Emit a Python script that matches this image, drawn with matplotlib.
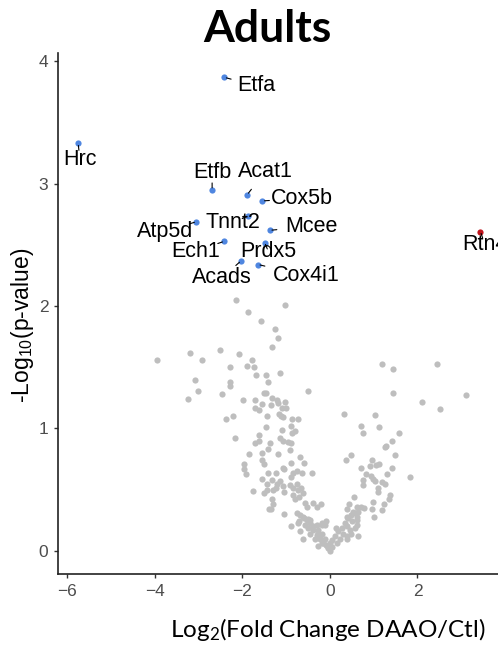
import numpy as np
import matplotlib
matplotlib.use("Agg")
import matplotlib.pyplot as plt

plt.rcParams['mathtext.fontset'] = 'custom'

# grey (non significant) proteins: log2 fold change, -log10 p
grey_x = [-2.14, -1.86, -1.58, -3.94, -3.20, -2.92, -2.52, -2.08, -1.77, -2.28, -1.89, -1.74, -1.68, -1.47,
          -3.07, -2.28, -2.28, -1.41, -3.01, -2.46, -1.51, -1.45, -3.25, -1.98, -1.70, -1.54, -1.71, -1.61,
          -2.37, -2.21, -1.43, -1.47, -2.17, -1.61, -1.71, -1.61, -1.42, -1.85, -1.56, -1.55, -1.50, -1.96,
          -1.96, -1.92, -1.41, -1.56, -1.43, -1.75, -1.51, -1.38,
          -1.03, -1.25, -1.19, -1.32, -1.15, -0.50, 1.18, 1.44, 2.44, 1.44, 2.10, 2.51, 3.10, 0.33, 1.04,
          0.71, 0.75, 1.13, 1.58, 1.42, 1.29, 1.27, 1.48, 0.48, 0.36, 0.96, 1.13, 1.05, 0.91, 0.71, 1.42,
          1.83, 0.82, 0.93, 0.99, 1.03, 0.76, 0.75, 1.19, 1.25, 1.31, 1.09, 1.10, 1.38, 1.35, 1.23, 1.20,
          0.99, 0.97, 1.00, 0.55, 0.43, 0.38,
          -1.32, -1.20, -1.18, -1.03, -1.10, -1.00, -1.35, -1.16, -1.12, -1.07, -0.86, -0.73, -1.10, -0.88,
          -0.80, -0.86, -1.13, -1.06, -0.95, -0.88, -1.37, -0.91, -1.18, -0.68, -0.88, -0.59, -1.07, -1.04,
          -1.23, -0.84, -0.76, -0.63, -0.40,
          -1.33, -1.20, -1.43, -1.29, -1.22, -1.13, -1.07, -1.04, -0.88, -0.91, -0.84, -0.76, -0.72, -0.65,
          -0.84, -0.80, -0.71, -0.61, -1.33, -1.29, -1.35, -1.04, -0.57, -0.53, -0.38, -0.21, -0.76, -0.68,
          -0.60, -0.50, -0.45, -0.72, -0.57, -0.50, -0.88, -0.68, -0.61, -0.38, -0.30, -0.23, -0.15, -0.27,
          -0.19,
          -0.30, 0.61, 0.70, 0.78, 0.65, 0.57, 0.49, 0.61, 0.42, 0.51, 0.34, 0.38, 0.27, 0.19, 0.30, 0.46,
          0.57, 0.63, 0.65, 0.11, 0.04, 0.00, -0.04, 0.23, 0.38, 0.49, -0.11, -0.19, -0.08, -0.30, -0.27,
          -0.19, -0.11, -0.15, -0.08,
          0.15, 0.38, 0.53, 0.61, 0.38, 0.17, -0.61, -0.53, -0.46, -0.38, -0.23, -0.70, -0.46, -0.34,
          -0.19, -0.27, 0.00, 0.05, -0.05]
grey_y = [2.05, 1.95, 1.88, 1.56, 1.62, 1.56, 1.64, 1.61, 1.56, 1.50, 1.51, 1.50, 1.44, 1.44,
          1.40, 1.38, 1.35, 1.38, 1.31, 1.28, 1.29, 1.29, 1.24, 1.23, 1.23, 1.20, 1.17, 1.15,
          1.08, 1.10, 1.10, 1.01, 0.92, 0.95, 0.88, 0.90, 0.83, 0.79, 0.80, 0.74, 0.71, 0.71,
          0.67, 0.63, 0.64, 0.59, 0.55, 0.49, 0.47, 0.34,
          2.01, 1.81, 1.74, 1.67, 1.45, 1.31, 1.53, 1.49, 1.53, 1.29, 1.22, 1.16, 1.27, 1.12, 1.11,
          1.02, 0.96, 1.01, 0.96, 0.90, 0.86, 0.85, 0.78, 0.78, 0.74, 0.74, 0.71, 0.70, 0.69, 0.68, 0.68,
          0.60, 0.63, 0.61, 0.59, 0.57, 0.58, 0.54, 0.56, 0.55, 0.63, 0.51, 0.48, 0.46, 0.42, 0.38, 0.33,
          0.40, 0.34, 0.28, 0.44, 0.38, 0.34,
          1.25, 1.23, 1.21, 1.22, 1.17, 1.17, 1.19, 1.12, 1.10, 1.09, 1.08, 1.08, 0.99, 1.02,
          0.98, 0.96, 0.92, 0.90, 0.89, 0.88, 0.88, 0.82, 0.79, 0.77, 0.72, 0.72, 0.68, 0.67,
          0.64, 0.64, 0.65, 0.64, 0.64,
          0.58, 0.55, 0.50, 0.50, 0.51, 0.57, 0.53, 0.48, 0.60, 0.54, 0.51, 0.55, 0.50, 0.51,
          0.46, 0.42, 0.44, 0.47, 0.42, 0.38, 0.34, 0.30, 0.39, 0.36, 0.39, 0.38, 0.31, 0.29,
          0.27, 0.26, 0.25, 0.23, 0.21, 0.19, 0.20, 0.16, 0.10, 0.17, 0.13, 0.10, 0.08, 0.14,
          0.23,
          0.36, 0.36, 0.36, 0.35, 0.32, 0.31, 0.29, 0.28, 0.27, 0.24, 0.23, 0.20, 0.19, 0.16, 0.14, 0.17,
          0.19, 0.21, 0.12, 0.12, 0.09, 0.06, 0.02, 0.10, 0.12, 0.14, 0.21, 0.21, 0.24, 0.21, 0.17,
          0.14, 0.10, 0.06, 0.05,
          0.19, 0.28, 0.32, 0.25, 0.10, 0.06, 0.28, 0.25, 0.23, 0.20, 0.13, 0.24, 0.14, 0.10,
          0.06, 0.04, 0.00, 0.03, 0.03]

# significant proteins
down_genes = ['Etfa', 'Hrc', 'Etfb', 'Acat1', 'Cox5b', 'Tnnt2', 'Atp5d', 'Mcee', 'Ech1', 'Prdx5',
              'Acads', 'Cox4i1']
down_x = [-2.41, -5.75, -2.69, -1.89, -1.54, -1.86, -3.05, -1.37, -2.41, -1.49, -2.03, -1.64]
down_y = [3.87, 3.33, 2.95, 2.91, 2.86, 2.74, 2.69, 2.62, 2.53, 2.52, 2.37, 2.34]
up_genes = ['Rtn4']
up_x = [3.44]
up_y = [2.61]

# where the repelled labels sit (data units)
label_x = [-1.67, -5.71, -2.69, -1.48, -0.65, -2.21, -3.77, -0.42, -3.07, -1.41, -2.47, -0.55]
label_y = [3.80, 3.20, 3.09, 3.10, 2.88, 2.68, 2.61, 2.65, 2.45, 2.45, 2.23, 2.25]
up_label_x = [3.54]
up_label_y = [2.50]

fig = plt.figure(figsize=(4.98, 6.45), dpi=100)
ax = fig.add_axes([0.1165, 0.110, 0.8835, 0.808])

ax.scatter(grey_x, grey_y, s=20, color='#BEBEBE', linewidths=0, zorder=2)
ax.scatter(down_x, down_y, s=20, color='#4F86E0', linewidths=0, zorder=3)
ax.scatter(up_x, up_y, s=20, color='#C0141C', linewidths=0, zorder=3)

ax.set_xlim(-6.21, 3.84)
ax.set_ylim(-0.19, 4.07)

# labels, each with a short stub pointing from the point toward its label
for g, x, y, lx, ly in zip(down_genes + up_genes, down_x + up_x, down_y + up_y,
                           label_x + up_label_x, label_y + up_label_y):
    ax.text(lx, ly, g, ha='center', va='center', fontsize=15.5,
            family='Liberation Sans', color='black', zorder=4, clip_on=False)
    p0 = ax.transData.transform((x, y))
    p1 = ax.transData.transform((lx, ly))
    d = (p1 - p0) / np.hypot(*(p1 - p0))
    ax.annotate('', xy=(x, y), xytext=(d[0] * 5, d[1] * 5), textcoords='offset points',
                arrowprops=dict(arrowstyle='-', color='black', lw=0.8, shrinkA=0, shrinkB=1.5),
                zorder=4)

ax.set_xticks([-6, -4, -2, 0, 2])
ax.set_yticks([0, 1, 2, 3, 4])

for side in ['top', 'right']:
    ax.spines[side].set_visible(False)
for side in ['left', 'bottom']:
    ax.spines[side].set_linewidth(1.2)
    ax.spines[side].set_color('#222222')
ax.tick_params(length=3, width=1, color='#333333', labelcolor='#4D4D4D', labelsize=12.5, pad=4)
for lab in ax.get_xticklabels() + ax.get_yticklabels():
    lab.set_family('Liberation Sans')

fig.text(267/498, 1 - 42/645, 'Adults', ha='center', va='baseline',
         fontsize=32, fontweight='bold', family='Lato')
fig.text(328/498, 1 - 637/645, r'Log$\mathregular{_2}$(Fold Change DAAO/Ctl)',
         ha='center', va='baseline', fontsize=17.5, family='Lato')
fig.text(22/498, 1 - 325/645, r'-Log$\mathregular{_{10}}$(p-value)', rotation=90,
         ha='center', va='center', fontsize=16.5, family='Liberation Sans')

fig.savefig('out.png', dpi=100)
